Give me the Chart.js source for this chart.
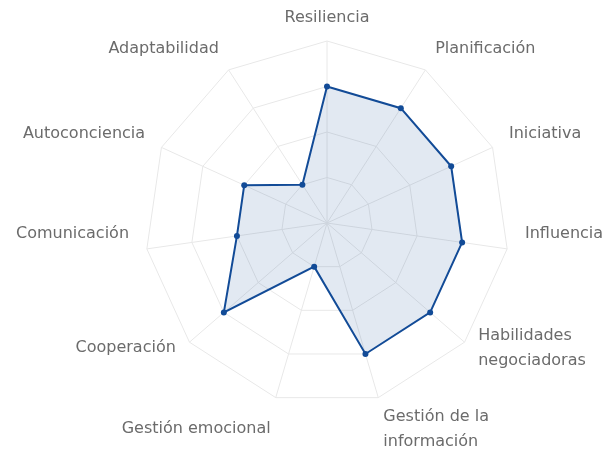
<!DOCTYPE html>
<html>
<head>
<meta charset="utf-8">
<script src="https://cdn.jsdelivr.net/npm/chart.js@4"></script>
<style>
  html, body { margin: 0; padding: 0; background: #fff; overflow: hidden; }
  #wrap { width: 611px; height: 449px; }
</style>
</head>
<body>
<div id="wrap"><canvas id="c" width="611" height="449"></canvas></div>
<script>
const categories = [
  "Resiliencia",
  "Planificación",
  "Iniciativa",
  "Influencia",
  ["Habilidades", "negociadoras"],
  ["Gestión de la", "información"],
  "Gestión emocional",
  "Cooperación",
  "Comunicación",
  "Autoconciencia",
  "Adaptabilidad"
];
const values = [3, 3, 3, 3, 3, 3, 1, 3, 2, 2, 1];
const scaleMin = 0;
const scaleMax = 4;
const scaleStep = 1;

const lineColor = '#124b97';
const labelColor = '#6b6b6b';
const labelFont = '16px "DejaVu Sans"';
const labelLineHeight = 25;
const labelDistance = 18;   // beyond outer ring

// Draws the axis labels at positions given by the radial scale itself
const axisLabelPlugin = {
  id: 'axisLabels',
  afterDraw(chart) {
    const scale = chart.scales.r;
    const ctx = chart.ctx;
    const labels = chart.data.labels;
    ctx.save();
    ctx.font = labelFont;
    ctx.fillStyle = labelColor;
    ctx.textBaseline = 'middle';
    labels.forEach((lab, i) => {
      const lines = Array.isArray(lab) ? lab : [lab];
      const p = scale.getPointPosition(i, scale.drawingArea + labelDistance);
      const a = scale.getIndexAngle(i);
      const dx = p.x - scale.xCenter;
      ctx.textAlign = dx > 10 ? 'left' : (dx < -10 ? 'right' : 'center');
      const c = Math.cos(a);
      let shift = -6;
      if (c > 0.94) shift = -5;
      else if (c < -0.94) shift = 14;
      else if (Math.abs(c) < 0.2) shift = -18;
      const blockMid = p.y + shift;
      const firstY = blockMid - (lines.length - 1) * labelLineHeight / 2;
      lines.forEach((t, j) => ctx.fillText(t, p.x, firstY + j * labelLineHeight));
    });
    ctx.restore();
  }
};

new Chart(document.getElementById('c'), {
  type: 'radar',
  data: {
    labels: categories,
    datasets: [{
      data: values,
      borderColor: lineColor,
      backgroundColor: 'rgba(18,75,151,0.12)',
      borderWidth: 2,
      pointRadius: 3,
      pointBackgroundColor: lineColor,
      pointBorderColor: lineColor,
      pointBorderWidth: 0,
      fill: true
    }]
  },
  options: {
    responsive: false,
    animation: false,
    layout: { padding: { left: 43, right: 0, top: 41, bottom: 44 } },
    plugins: { legend: { display: false }, tooltip: { enabled: false } },
    scales: {
      r: {
        min: scaleMin,
        max: scaleMax,
        ticks: { display: false, stepSize: scaleStep },
        grid: { color: '#e8e8e8', lineWidth: 1 },
        angleLines: { color: '#e8e8e8', lineWidth: 1 },
        pointLabels: { display: false }
      }
    }
  },
  plugins: [axisLabelPlugin]
});
</script>
</body>
</html>
